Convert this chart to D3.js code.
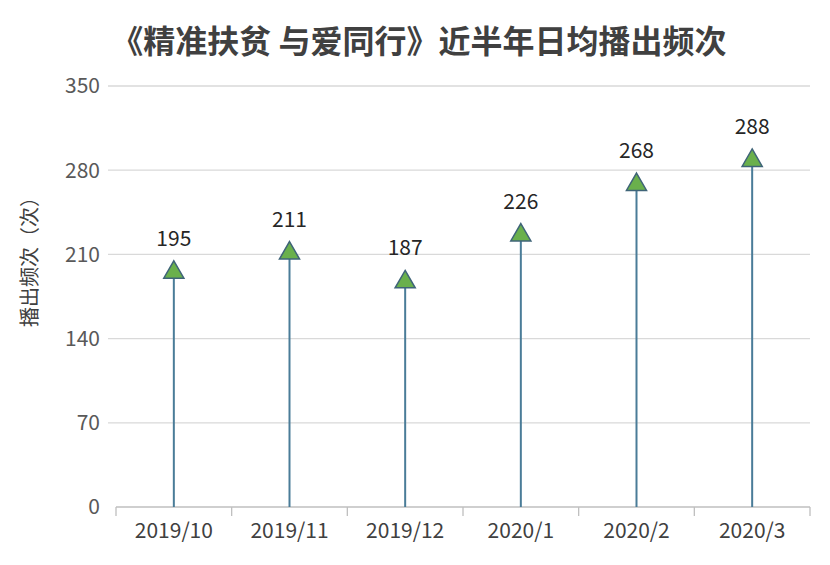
<!DOCTYPE html>
<html><head><meta charset="utf-8">
<script src="https://cdn.jsdelivr.net/npm/d3@7"></script>
<style>body{margin:0;background:#fff}svg{display:block}</style>
</head><body>
<script>
const categories = ["2019/10","2019/11","2019/12","2020/1","2020/2","2020/3"];
const values = [195,211,187,226,268,288];
const yTicks = [0,70,140,210,280,350];
const title = "《精准扶贫 与爱同行》近半年日均播出频次";
const yLabel = "播出频次（次）";

const W=830,H=565;
const svg=d3.select("body").append("svg").attr("width",W).attr("height",H);
svg.append("rect").attr("width",W).attr("height",H).attr("fill","#fff");
const font="'Microsoft YaHei','Noto Sans CJK SC','Noto Sans',sans-serif";
const x=d3.scaleBand().domain(categories).range([116,810]);
const y=d3.scaleLinear().domain([0,350]).range([507,86]);

// gridlines
svg.append("g").selectAll("line").data(yTicks.filter(d=>d>0)).join("line")
 .attr("x1",108).attr("x2",810).attr("y1",d=>y(d)).attr("y2",d=>y(d))
 .attr("stroke","#d9d9d9").attr("stroke-width",1.3);
// y labels
svg.append("g").selectAll("text").data(yTicks).join("text")
 .attr("x",100).attr("y",d=>y(d)).attr("dy","0.35em").attr("text-anchor","end")
 .attr("font-family",font).attr("font-size",21).attr("fill","#595959").text(d=>d);
// x axis
const xa=svg.append("g").attr("transform","translate(0,507)")
 .call(d3.axisBottom(x).tickSize(0).tickPadding(16));
xa.select(".domain").attr("stroke","#bfbfbf").attr("stroke-width",1.3).attr("d","M116,0H810");
xa.selectAll("text").attr("font-family",font).attr("font-size",21).attr("fill","#404040");
// category boundary ticks
svg.append("g").selectAll("line").data(d3.range(categories.length+1)).join("line")
 .attr("x1",i=>116+i*x.step()).attr("x2",i=>116+i*x.step())
 .attr("y1",507).attr("y2",516).attr("stroke","#bfbfbf").attr("stroke-width",1.3);

// stems
svg.append("g").selectAll("line").data(values).join("line")
 .attr("x1",(d,i)=>x(categories[i])+x.bandwidth()/2).attr("x2",(d,i)=>x(categories[i])+x.bandwidth()/2)
 .attr("y1",y(0)).attr("y2",d=>y(d)).attr("stroke","#4a7c98").attr("stroke-width",2);
// triangles
const tri=d3.symbol().type(d3.symbolTriangle).size(175);
svg.append("g").selectAll("path").data(values).join("path")
 .attr("d",tri).attr("transform",(d,i)=>`translate(${x(categories[i])+x.bandwidth()/2},${y(d)})`)
 .attr("fill","#6ab04c").attr("stroke","#3f6478").attr("stroke-width",1.5);
// value labels
svg.append("g").selectAll("text").data(values).join("text")
 .attr("x",(d,i)=>x(categories[i])+x.bandwidth()/2).attr("y",d=>y(d)-34).attr("dy","0.35em")
 .attr("text-anchor","middle").attr("font-family",font).attr("font-size",21).attr("fill","#262626").text(d=>d);

// title
svg.append("text").attr("x",419).attr("y",42).attr("dy","0.35em").attr("text-anchor","middle")
 .attr("font-family",font).attr("font-size",32).attr("font-weight","bold").attr("fill","#404040").text(title);
// y label
svg.append("text").attr("transform","translate(30,257) rotate(-90)").attr("dy","0.35em").attr("text-anchor","middle")
 .attr("font-family",font).attr("font-size",20).attr("fill","#404040").text(yLabel);
</script>
</body></html>
